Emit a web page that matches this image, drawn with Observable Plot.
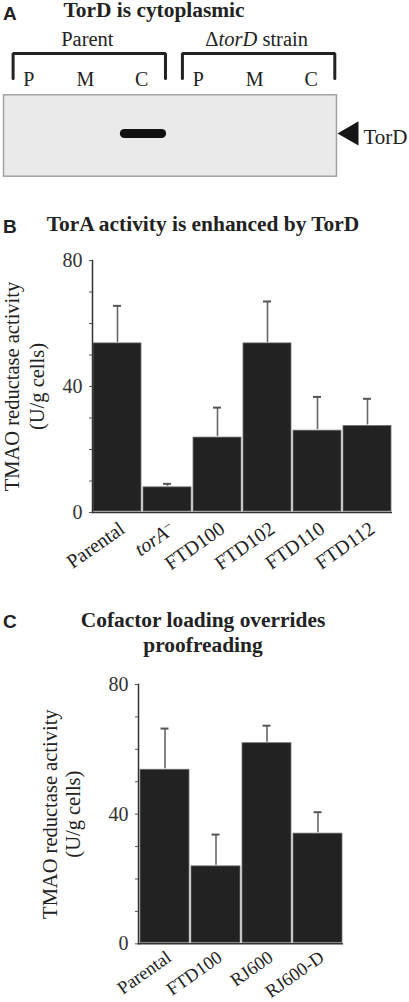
<!DOCTYPE html>
<html><head><meta charset="utf-8">
<script src="https://cdn.jsdelivr.net/npm/d3@7"></script>
<script src="https://cdn.jsdelivr.net/npm/@observablehq/plot@0.6"></script>
<style>
body{margin:0;background:#fff;}
#root{position:relative;width:409px;height:1002px;overflow:hidden;background:#fff;font-family:"Liberation Serif","Times New Roman",serif;color:#222;}
.abs{position:absolute;white-space:nowrap;}
.title{font-weight:bold;font-size:20px;line-height:20px;transform:translateX(-50%) scaleX(1.07);text-align:center;}
.letter{font-family:"Liberation Sans",Arial,sans-serif;font-weight:bold;font-size:19px;line-height:19px;left:3px;}
svg.panel{position:absolute;left:0;}
</style></head><body><div id="root"></div>
<script>
// ---------- data ----------
// Panel A: western blot
const fractions = ["P", "M", "C"];
const strainsA = ["Parent", "ΔtorD strain"];
const torDSignal = [0, 0, 1, 0, 0, 0];      // band intensity per lane (P,M,C | P,M,C)
const torDBandPosition = [0.525];           // relative migration of the TorD band in the blot

// Panel B
const strainsB = ["Parental", "torA⁻", "FTD100", "FTD102", "FTD110", "FTD112"];
const activityB = [54, 8.3, 24.1, 54, 26.3, 27.8];
const sdB = [11.6, 0.8, 9.2, 13, 10.4, 8.3];

// Panel C
const strainsC = ["Parental", "FTD100", "RJ600", "RJ600-D"];
const activityC = [54, 24.2, 62.2, 34.3];
const sdC = [12.4, 9.5, 5.1, 6.3];

// Axis ticks
const yTickLabels = [0, 40, 80];
const yMinorTicks = [0, 10, 20, 30, 40, 50, 60, 70, 80];
const yTitleLines = ["TMAO reductase activity", "(U/g cells)"];

// ---------- layout ----------
const root = document.getElementById("root");
function addDiv(cls, html, left, top) {
  const d = document.createElement("div");
  d.className = "abs " + cls;
  d.innerHTML = html;
  d.style.left = left + "px";
  d.style.top = top + "px";
  root.appendChild(d);
  return d;
}
addDiv("letter", "A", 3, 4);
addDiv("title", "TorD is cytoplasmic", 153.5, -0.5);
addDiv("letter", "B", 3, 217);
addDiv("title", "TorA activity is enhanced by TorD", 202.5, 214);
addDiv("letter", "C", 3, 612);
const ct = addDiv("title", "Cofactor loading overrides<br>proofreading", 203, 608);
ct.style.lineHeight = "24.7px";

const style = {fontFamily: "'Liberation Serif','Times New Roman',serif", fontSize: "20px", color: "#222", background: "transparent", overflow: "visible"};

// ---------- Panel A ----------
const lanes = strainsA.flatMap((s, g) => fractions.map((f, j) => ({lane: g * 3 + j, strain: s, fraction: f, signal: torDSignal[g * 3 + j]})));
const brackets = strainsA.flatMap((s, g) => {
  const l0 = g * 3 - 0.28, l1 = g * 3 + 2 + 0.42;
  return [{strain: s, x: l0, y: 0}, {strain: s, x: l0, y: 1}, {strain: s, x: l1, y: 1}, {strain: s, x: l1, y: 0}];
});
const xLane = {domain: [-0.45, 5.45], axis: null};

const headerA = Plot.plot({
  width: 409, height: 65, marginTop: 28, marginBottom: 12, marginLeft: 3, marginRight: 73,
  style, x: xLane, y: {domain: [0, 1], axis: null},
  marks: [
    Plot.line(brackets, {x: "x", y: "y", z: "strain", stroke: "#222", strokeWidth: 3, strokeLinejoin: "miter"}),
    Plot.text(lanes, {x: "lane", y: () => 0, text: "fraction", dy: 7, lineAnchor: "bottom", fontSize: 20}),
    Plot.text(strainsA, {x: (d, i) => 3 * i + 1, y: () => 1, text: d => d, dx: 2, dy: -8, lineAnchor: "bottom", fontSize: 20.5})
  ]
});
headerA.classList.add("panel");
headerA.style.top = "25px";
root.appendChild(headerA);

const blotA = Plot.plot({
  width: 409, height: 90, marginTop: 4.3, marginBottom: 4.3, marginLeft: 3, marginRight: 73,
  style, x: xLane, y: {domain: [0, 1], axis: null},
  marks: [
    Plot.frame({fill: "#eaeaea", stroke: "#a3a3a3", strokeWidth: 1.5}),
    Plot.ruleY(lanes.filter(d => d.signal > 0), {y: () => torDBandPosition[0], x1: d => d.lane - 0.3, x2: d => d.lane + 0.36, stroke: "#111", strokeWidth: 9, strokeLinecap: "round", strokeOpacity: d => d.signal}),
    Plot.dot(torDBandPosition, {y: d => d, frameAnchor: "right", dx: 15, symbol: "triangle", r: 9, fill: "#151515", rotate: -90}),
    Plot.text(torDBandPosition, {y: d => d, text: () => "TorD", frameAnchor: "right", dx: 27, dy: 3.5, textAnchor: "start", fontSize: 21})
  ]
});
blotA.classList.add("panel");
blotA.style.top = "90px";
root.appendChild(blotA);

// ---------- bar panels ----------
function barPanel(strains, activity, sd, o) {
  const data = strains.map((s, i) => ({strain: s, activity: activity[i], sd: sd[i]}));
  return Plot.plot({
    width: 409, height: o.height, marginTop: o.mt, marginBottom: o.mb, marginLeft: o.ml, marginRight: o.mr,
    style,
    x: {domain: strains, padding: 0, axis: null, label: null},
    y: {domain: [0, 80], axis: null, label: null},
    marks: [
      Plot.barY(data, {x: "strain", y: "activity", fill: "#222", stroke: "#707070", strokeWidth: 0.8, inset: 1}),
      Plot.ruleX(data, {x: "strain", y1: "activity", y2: d => d.activity + d.sd, stroke: "#666", strokeWidth: 1.6}),
      Plot.tickY(data, {x: "strain", y: d => d.activity + d.sd, stroke: "#555", strokeWidth: 2, inset: (o.bw - 8) / 2}),
      Plot.axisY(yMinorTicks, {tickSize: 3, tickFormat: () => "", stroke: "#555", label: null}),
      Plot.axisY(yTickLabels, {tickSize: 0, tickPadding: 10, fontSize: 20, fill: "#333", label: null}),
      Plot.frame({anchor: "left", stroke: "#333", strokeWidth: 1.5}),
      Plot.ruleY([0], {stroke: "#333", strokeWidth: 1.5}),
      Plot.text(strains, {x: d => d, y: () => 0, text: d => d, rotate: -35, textAnchor: "end", lineAnchor: "middle", dx: o.ldx, dy: o.ldy, fontSize: o.lfs}),
      Plot.text([yTitleLines[0]], {text: d => d, frameAnchor: "left", rotate: -90, dx: o.t1, textAnchor: "middle", lineAnchor: "bottom", fontSize: 20.5}),
      Plot.text([yTitleLines[1]], {text: d => d, frameAnchor: "left", rotate: -90, dx: o.t2, textAnchor: "middle", lineAnchor: "bottom", fontSize: 20.5})
    ]
  });
}

const panelB = barPanel(strainsB, activityB, sdB, {height: 320, mt: 20, mb: 48, ml: 92, mr: 17, bw: 50, ldx: 5, ldy: 14, lfs: 20, t1: -73.5, t2: -49});
panelB.classList.add("panel");
panelB.style.top = "240px";
root.appendChild(panelB);

const panelC = barPanel(strainsC, activityC, sdC, {height: 332, mt: 14, mb: 58.7, ml: 138, mr: 66, bw: 51, ldx: 4, ldy: 11.5, lfs: 18.5, t1: -81.3, t2: -58.7});
panelC.classList.add("panel");
panelC.style.top = "670px";
root.appendChild(panelC);

// ---------- rich text (italics, superscript) ----------
d3.select(root).selectAll("svg text").each(function () {
  const t = this.textContent;
  const sel = d3.select(this);
  if (t === "torA⁻") {
    sel.text(null);
    sel.append("tspan").attr("font-style", "italic").text("torA");
    sel.append("tspan").attr("dy", "-0.4em").attr("font-size", "14px").text("−");
  } else if (t === "ΔtorD strain") {
    sel.text(null);
    sel.append("tspan").text("Δ");
    sel.append("tspan").attr("font-style", "italic").text("torD");
    sel.append("tspan").text(" strain");
  }
});
</script>
</body></html>
